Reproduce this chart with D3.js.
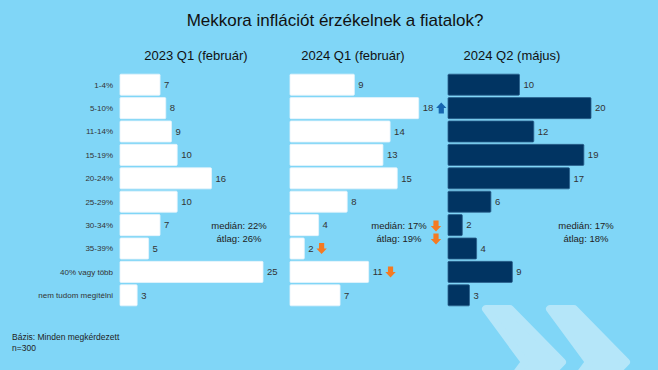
<!DOCTYPE html>
<html>
<head>
<meta charset="utf-8">
<script src="https://cdn.jsdelivr.net/npm/d3@7"></script>
<style>
  body { margin: 0; background: #80d6f7; }
  svg { display: block; font-family: "Liberation Sans", Arial, sans-serif; }
</style>
</head>
<body>
<div id="chart"></div>
<script>
const w = 658;
const h = 370;

// data
const categories = ['1-4%', '5-10%', '11-14%', '15-19%', '20-24%', '25-29%', '30-34%', '35-39%', '40% vagy több', 'nem tudom megítélni'];
const panelTitles = ['2023 Q1 (február)', '2024 Q1 (február)', '2024 Q2 (május)'];
const values2023q1 = [7, 8, 9, 10, 16, 10, 7, 5, 25, 3];
const values2024q1 = [9, 18, 14, 13, 15, 8, 4, 2, 11, 7];
const values2024q2 = [10, 20, 12, 19, 17, 6, 2, 4, 9, 3];
const medians = ['medián: 22%', 'medián: 17%', 'medián: 17%'];
const averages = ['átlag: 26%', 'átlag: 19%', 'átlag: 18%'];
// change arrows on the 2024 Q1 panel
const barArrows = [
    { cat: '5-10%', dir: 'up' },
    { cat: '35-39%', dir: 'down' },
    { cat: '40% vagy több', dir: 'down' }
];

const panels = [
    { title: panelTitles[0], values: values2023q1, x0: 120, max: 25, fill: '#ffffff', stroke: '#e6f4fb', titleX: 196, noteX: 239 },
    { title: panelTitles[1], values: values2024q1, x0: 290, max: 20, fill: '#ffffff', stroke: '#e6f4fb', titleX: 353, noteX: 399 },
    { title: panelTitles[2], values: values2024q2, x0: 448, max: 20, fill: '#013462', stroke: '#2b5f8c', titleX: 512, noteX: 586 }
];

const svg = d3.select('#chart')
    .append('svg')
    .attr('width', w)
    .attr('height', h)
    .style('background-color', '#80d6f7');

// decorative chevrons, bottom right
const chevron = (x) => `M${x + 3},309 L${x + 27},309 L${x + 79},362 L${x + 27},415 L${x + 3},415 L${x + 42},362 Z`;
[483, 547].forEach(x => {
    svg.append('path')
        .attr('d', chevron(x))
        .attr('fill', '#b5e6f9')
        .attr('stroke', '#b5e6f9')
        .attr('stroke-width', 8)
        .attr('stroke-linejoin', 'round');
});

svg.append('text')
    .attr('x', 335)
    .attr('y', 26)
    .attr('text-anchor', 'middle')
    .style('font-size', '17px')
    .attr('fill', '#111')
    .text('Mekkora inflációt érzékelnek a fiatalok?');

const yScale = d3.scaleBand()
    .domain(categories)
    .range([73, 307])
    .paddingInner(0.1)
    .paddingOuter(0.05);

// category labels
svg.append('g')
    .selectAll('text')
    .data(categories)
    .enter()
    .append('text')
    .attr('x', 113)
    .attr('y', d => yScale(d) + yScale.bandwidth() / 2)
    .attr('dy', '0.35em')
    .attr('text-anchor', 'end')
    .style('font-size', '8px')
    .attr('fill', '#333')
    .text(d => d);

const arrowPath = (cx, cy, dir) => {
    // block arrow, 10 wide, 11 tall
    const s = dir === 'up' ? -1 : 1;
    const pts = [
        [cx - 2.6, cy - s * 5.5], [cx + 2.6, cy - s * 5.5], [cx + 2.6, cy],
        [cx + 5.2, cy], [cx, cy + s * 5.5], [cx - 5.2, cy], [cx - 2.6, cy]
    ];
    return 'M' + pts.map(p => p.join(',')).join('L') + 'Z';
};

const labelEnds = {};

panels.forEach((p, i) => {
    const xScale = d3.scaleLinear().domain([0, p.max]).range([p.x0, p.x0 + 143]);
    const g = svg.append('g');

    g.append('text')
        .attr('x', p.titleX)
        .attr('y', 60)
        .attr('text-anchor', 'middle')
        .style('font-size', '13px')
        .attr('fill', '#111')
        .text(p.title);

    g.selectAll('rect')
        .data(p.values)
        .enter()
        .append('rect')
        .attr('x', xScale(0))
        .attr('y', (d, j) => yScale(categories[j]))
        .attr('width', d => xScale(d) - xScale(0))
        .attr('height', yScale.bandwidth())
        .attr('rx', 1)
        .attr('fill', p.fill)
        .attr('stroke', p.stroke)
        .attr('stroke-width', 0.8);

    g.selectAll('.val')
        .data(p.values)
        .enter()
        .append('text')
        .attr('class', 'val')
        .attr('x', d => xScale(d) + 4)
        .attr('y', (d, j) => yScale(categories[j]) + yScale.bandwidth() / 2)
        .attr('dy', '0.35em')
        .style('font-size', '9.5px')
        .attr('fill', '#333')
        .text(d => d)
        .each(function (d, j) {
            if (i === 1) labelEnds[categories[j]] = xScale(d) + 4 + this.getComputedTextLength();
        });

    g.append('text')
        .attr('x', p.noteX)
        .attr('y', 226)
        .attr('dy', '0.35em')
        .attr('text-anchor', 'middle')
        .style('font-size', '9.5px')
        .attr('fill', '#222')
        .text(medians[i]);

    g.append('text')
        .attr('x', p.noteX)
        .attr('y', 239)
        .attr('dy', '0.35em')
        .attr('text-anchor', 'middle')
        .style('font-size', '9.5px')
        .attr('fill', '#222')
        .text(averages[i]);
});

// arrows next to the 2024 Q1 values and its median / average
barArrows.forEach(a => {
    svg.append('path')
        .attr('d', arrowPath(labelEnds[a.cat] + 8, yScale(a.cat) + yScale.bandwidth() / 2, a.dir))
        .attr('fill', a.dir === 'up' ? '#1666b0' : '#f47a22');
});
[226, 239].forEach(y => {
    svg.append('path')
        .attr('d', arrowPath(436, y, 'down'))
        .attr('fill', '#f47a22');
});

svg.append('text')
    .attr('x', 12)
    .attr('y', 340)
    .style('font-size', '8.5px')
    .attr('fill', '#222')
    .text('Bázis: Minden megkérdezett');

svg.append('text')
    .attr('x', 12)
    .attr('y', 351)
    .style('font-size', '8.5px')
    .attr('fill', '#222')
    .text('n=300');
</script>
</body>
</html>
